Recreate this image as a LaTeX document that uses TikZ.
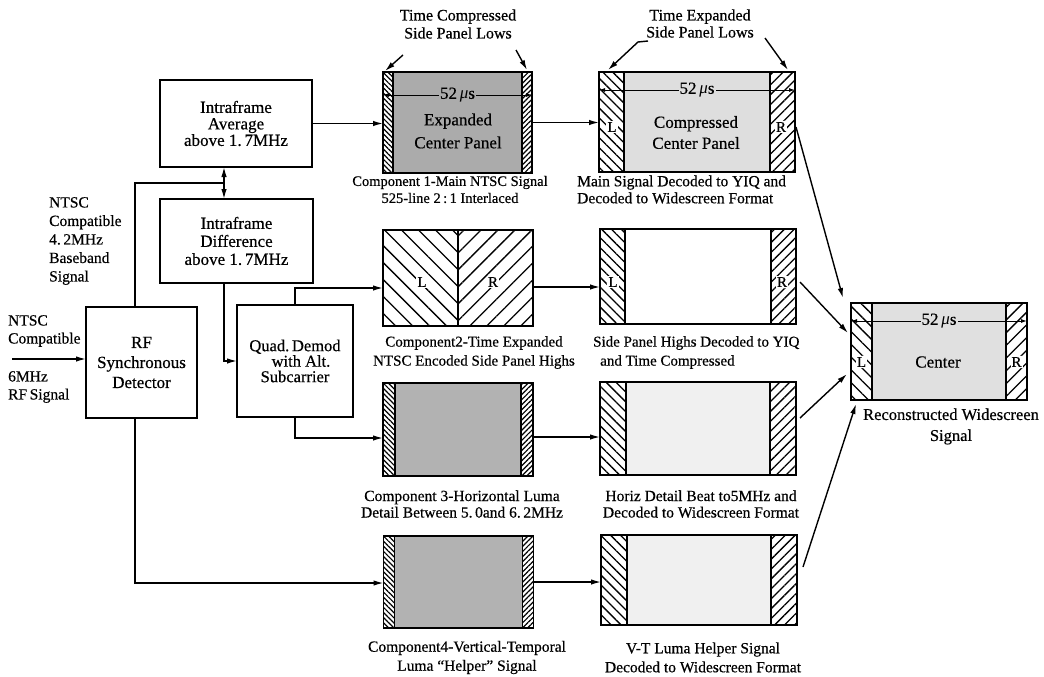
\documentclass[tikz,border=0pt]{standalone}
\usepackage{fontspec}
\setmainfont{Liberation Serif}[UprightFeatures={FakeBold=0.5}]
\usetikzlibrary{arrows.meta,patterns.meta}
\newcommand\myfs[2]{\fontsize{#1}{#2}\selectfont}
% #1 name, #2 centre, #3 width, #4 height, #5 fill, #6 strip width, #7 hatch spec
\newcommand\mypanel[7]{%
  \node[inner sep=0pt,outer sep=0pt,minimum width=#3,minimum height=#4,fill=#5] (#1) at #2 {};
  \fill[white] (#1.north west) rectangle ([xshift=#6]#1.south west);
  \fill[white] ([xshift=-#6]#1.north east) rectangle (#1.south east);
  \fill[pattern={Lines[angle=-45,#7]}] (#1.north west) rectangle ([xshift=#6]#1.south west);
  \fill[pattern={Lines[angle=45,#7]}] ([xshift=-#6]#1.north east) rectangle (#1.south east);
  \draw[line width=1.3pt] ([xshift=#6]#1.north west) -- ([xshift=#6]#1.south west)
        ([xshift=-#6]#1.north east) -- ([xshift=-#6]#1.south east);
  \draw[line width=1.8pt] (#1.north west) rectangle (#1.south east);
}
\newcommand\mus{52\,{\itshape μ}s}
\tikzset{
  box/.style={draw,line width=1.8pt,inner sep=0pt,outer sep=0pt,align=center},
  conn/.style={line width=1.4pt},
  arr/.style={conn,-{Latex[length=10pt,width=5.5pt]}},
  dim/.style={line width=1pt,{Latex[length=6pt,width=4pt]}-{Latex[length=6pt,width=4pt]}},
  lbl/.style={inner sep=0pt,align=center},
  ltr/.style={inner sep=1pt,fill=white,font=\myfs{15}{15}},
}
\begin{document}
\begin{tikzpicture}[x=1pt,y=-1pt]
\useasboundingbox (0,0) rectangle (1044,677);

% ---------- left blocks ----------
\node[box,minimum width=152pt,minimum height=87pt,font=\myfs{17}{16.5}] (avg) at (236,123.5) {Intraframe\\Average\\above 1.\,7MHz};
\node[box,minimum width=153pt,minimum height=84pt,font=\myfs{17}{18}] (diff) at (236.5,241) {Intraframe\\Difference\\above 1.\,7MHz};
\node[box,minimum width=111pt,minimum height=111pt,font=\myfs{17}{20}] (rf) at (141.5,362.5) {RF\\Synchronous\\Detector};
\node[box,minimum width=116pt,minimum height=112pt,font=\myfs{16.5}{15.5}] (quad) at (295,361) {Quad.\,Demod\\\hspace*{12pt}with Alt.\\Subcarrier};

\node[lbl,anchor=west,align=left,font=\myfs{15.5}{18.5}] (bb) at (49,241) {NTSC\\Compatible\\4.\,2MHz\\Baseband\\Signal};
\node[lbl,anchor=west,align=left,font=\myfs{15.5}{18}] (inA) at (8,331) {NTSC\\Compatible};
\node[lbl,anchor=west,align=left,font=\myfs{15.5}{18}] (inB) at (8,387) {6MHz\\RF\,Signal};

% ---------- component panels ----------
\mypanel{comp1}{(457.5,122.5)}{149pt}{101pt}{black!33}{10pt}{distance=3.6pt,line width=1.2pt}
\node[inner sep=0pt,outer sep=0pt,minimum width=150pt,minimum height=96pt] (comp2) at (458,278) {};
\fill[pattern={Lines[angle=-45,distance=12pt,line width=1.3pt]}] (comp2.north west) rectangle (comp2.south);
\fill[pattern={Lines[angle=45,distance=12pt,line width=1.3pt]}] (comp2.north) rectangle (comp2.south east);
\draw[line width=1.3pt] (comp2.north) -- (comp2.south);
\draw[line width=1.8pt] (comp2.north west) rectangle (comp2.south east);
\mypanel{comp3}{(458,429.5)}{150pt}{93pt}{black!30}{12pt}{distance=3.6pt,line width=1.2pt}
\mypanel{comp4}{(458.5,582)}{150pt}{92pt}{black!30}{11pt}{distance=3.6pt,line width=1.2pt}

% ---------- decoded panels ----------
\mypanel{dec1}{(697,122)}{196pt}{100pt}{black!13}{25pt}{distance=7pt,line width=1.3pt}
\mypanel{dec2}{(698,276.5)}{196pt}{95pt}{white}{25pt}{distance=7pt,line width=1.3pt}
\mypanel{dec3}{(698,428.5)}{196pt}{93pt}{black!6}{26pt}{distance=7pt,line width=1.3pt}
\mypanel{dec4}{(699,580)}{196pt}{90pt}{black!6}{26pt}{distance=7pt,line width=1.3pt}
\mypanel{final}{(939,351.5)}{176pt}{97pt}{black!12}{21pt}{distance=9pt,line width=1.3pt}

% ---------- texts inside panels ----------
\draw[dim] ([yshift=27.5pt]comp1.west) -- ([yshift=27.5pt]comp1.east)
  node[midway,fill=black!33,inner sep=1pt,font=\myfs{17}{17}] (mu1) {\mus};
\node[lbl,font=\myfs{17}{23}] (comp1t) at (458,131) {Expanded\\Center Panel};
\draw[dim] ([yshift=32pt]dec1.west) -- ([yshift=32pt]dec1.east)
  node[midway,fill=black!13,inner sep=1pt,font=\myfs{17}{17}] (mu2) {\mus};
\node[lbl,font=\myfs{17}{21}] (dec1t) at (696,132.5) {Compressed\\Center Panel};
\node[ltr] (dec1L) at (612,127) {L};
\node[ltr] (dec1R) at (781,127) {R};
\node[ltr] (comp2L) at (422,282) {L};
\node[ltr] (comp2R) at (493,282) {R};
\node[ltr] (dec2L) at (613,282) {L};
\node[ltr] (dec2R) at (782,282) {R};
\draw[dim] ([yshift=30.5pt]final.west) -- ([yshift=30.5pt]final.east)
  node[midway,fill=black!12,inner sep=1pt,font=\myfs{17}{17}] (mu3) {\mus};
\node[lbl,font=\myfs{17}{17}] (finalt) at (938,362) {Center};
\node[ltr] (finalL) at (861.5,362) {L};
\node[ltr] (finalR) at (1016.5,362) {R};

% ---------- labels ----------
\node[lbl,font=\myfs{16}{18}] (tcl) at (458,24) {Time Compressed\\Side Panel Lows};
\node[lbl,font=\myfs{16}{17}] (tel) at (700,23.5) {Time Expanded\\Side Panel Lows};
\node[lbl,font=\myfs{14.5}{17}] (l1a) at (450,189.5) {Component 1-Main NTSC Signal\\525-line 2\,:\,1 Interlaced};
\node[lbl,anchor=west,align=left,font=\myfs{15.5}{17}] (l1b) at (577,189.5) {Main Signal Decoded to YIQ and\\Decoded to Widescreen Format};
\node[lbl,font=\myfs{15}{19}] (l2a) at (474,352.5) {Component2-Time Expanded\\NTSC Encoded Side Panel Highs};
\node[lbl,anchor=west,align=left,font=\myfs{15}{19}] (l2b) at (593,352.5) {Side Panel Highs Decoded to YIQ\\\hspace*{7pt}and Time Compressed};
\node[lbl,font=\myfs{15.5}{16.5}] (l3a) at (462,504) {Component 3-Horizontal Luma\\Detail Between 5.\,0and 6.\,2MHz};
\node[lbl,font=\myfs{15.5}{16.5}] (l3b) at (701,504) {Horiz Detail Beat to5MHz and\\Decoded to Widescreen Format};
\node[lbl,font=\myfs{15.5}{19}] (l4a) at (467,657.5) {Component4-Vertical-Temporal\\Luma ``Helper'' Signal};
\node[lbl,font=\myfs{15.5}{19}] (l4b) at (703,657.5) {V-T Luma Helper Signal\\Decoded to Widescreen Format};
\node[lbl,font=\myfs{16.5}{21}] (lf) at (951,426.5) {Reconstructed Widescreen\\Signal};

% ---------- connectors ----------
\coordinate (jn) at (224,183);
\coordinate (inp) at (12,359);
\draw[arr] (inp) -- (inp -| rf.west);
\draw[conn] ([xshift=-6.5pt]rf.north) |- (jn);
\draw[arr] (jn) -- (jn |- avg.south);
\draw[arr] (jn) -- (jn |- diff.north);
\draw[arr] (jn |- diff.south) |- (quad.west);
\draw[arr] (quad.north) |- ([yshift=-10pt]comp2.west);
\draw[arr] (quad.south) |- ([yshift=-8.5pt]comp3.west);
\draw[arr] ([xshift=-6.5pt]rf.south) |- ([yshift=-1pt]comp4.west);

\draw[arr] (avg.east) -- (avg.east -| comp1.west);
\draw[arr] (comp1.east) -- (comp1.east -| dec1.west);
\coordinate (c2e) at ([yshift=-9pt]comp2.east);
\draw[arr] (c2e) -- (c2e -| dec2.west);
\coordinate (c3e) at ([yshift=-7.5pt]comp3.east);
\draw[arr] (c3e) -- (c3e -| dec3.west);
\draw[arr] (comp4.east) -- (comp4.east -| dec4.west);

% top pointer arrows
\coordinate (p1) at (403,55);
\coordinate (p2) at (516,50);
\coordinate (p3) at (648,41);
\coordinate (p3b) at (638,42);
\coordinate (p4) at (765,38);
\draw[arr] (p1) -- ([shift={(2,-1)}]comp1.north west);
\draw[arr] (p2) -- ([shift={(-5,-2)}]comp1.north east);
\draw[arr] (p3) -- (p3b) -- ([shift={(9,-2)}]dec1.north west);
\draw[arr] (p4) -- ([shift={(-7,-2)}]dec1.north east);

% converging arrows
\draw[arr] ([shift={(1,5)}]dec1.east) -- ([shift={(-8,-5)}]final.north west);
\draw[arr] ([shift={(4,5.5)}]dec2.east) -- ([shift={(-3,-18.5)}]final.west);
\draw[arr] ([shift={(4,-10.5)}]dec3.east) -- ([shift={(-4,22.5)}]final.west);
\draw[arr] ([shift={(6,-13)}]dec4.east) -- ([shift={(5,4)}]final.south west);
\end{tikzpicture}
\end{document}
